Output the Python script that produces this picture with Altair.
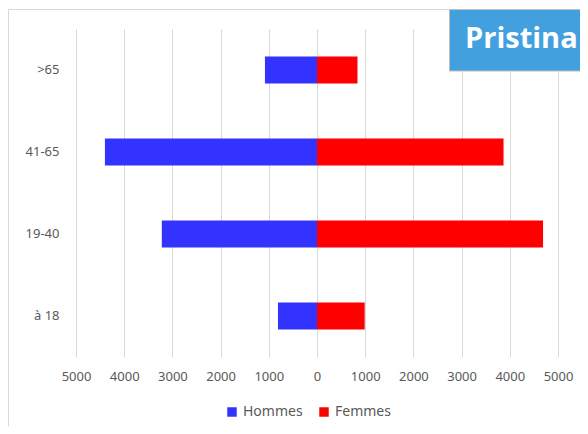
import altair as alt
import pandas as pd

ages = [">65", "41-65", "19-40", "à 18"]
hommes = [1080, 4400, 3220, 810]
femmes = [840, 3870, 4690, 990]
series = ["Hommes", "Femmes"]
colors = ["#3333ff", "#ff0000"]
ticks = [-5000, -4000, -3000, -2000, -1000, 0, 1000, 2000, 3000, 4000, 5000]
title_text = "Pristina"

rows = []
for a, h, f in zip(ages, hommes, femmes):
    rows.append({"age": a, "sexe": "Hommes", "valeur": -h})
    rows.append({"age": a, "sexe": "Femmes", "valeur": f})
df = pd.DataFrame(rows)

bars = alt.Chart(df).mark_bar().encode(
    x=alt.X("valeur:Q", stack=None,
            scale=alt.Scale(domain=[-5000, 5000], nice=False),
            axis=alt.Axis(values=ticks, title=None, labelExpr="format(abs(datum.value), 'd')",
                          grid=True, gridColor="#d9d9d9", gridWidth=1, domain=False, ticks=False,
                          labelPadding=13, labelFontSize=13, labelColor="#595959",
                          labelFont="Noto Sans", labelFlush=False, labelOverlap=False,
                          labelBound=False)),
    y=alt.Y("age:N", sort=ages,
            scale=alt.Scale(paddingInner=0.67, paddingOuter=0.335),
            axis=alt.Axis(title=None, domain=False, ticks=False, grid=False,
                          labelPadding=17, labelFontSize=13, labelColor="#595959",
                          labelFont="Noto Sans")),
    color=alt.Color("sexe:N", scale=alt.Scale(domain=series, range=colors),
                    legend=alt.Legend(title=None, orient="none", legendX=149, legendY=376,
                                      direction="horizontal", symbolType="square",
                                      symbolSize=90, symbolStrokeWidth=0,
                                      labelFontSize=14, labelColor="#595959",
                                      labelFont="Noto Sans", labelOffset=4,
                                      columnPadding=14)),
)

dummy = pd.DataFrame({"a": [0]})
border_v = alt.Chart(dummy).mark_rule(color="#d9d9d9", strokeWidth=1).encode(
    x=alt.value(-67.5), y=alt.value(-20), y2=alt.value(420))
border_h = alt.Chart(dummy).mark_rule(color="#d9d9d9", strokeWidth=1).encode(
    x=alt.value(-68), x2=alt.value(520), y=alt.value(-19.5))
box = alt.Chart(dummy).mark_rect(fill="#41a0dd", stroke="#bfbfbf", strokeWidth=1).encode(
    x=alt.value(373.5), x2=alt.value(530), y=alt.value(-19.5), y2=alt.value(42))
txt = alt.Chart(dummy).mark_text(text=title_text, font="Open Sans", fontWeight="bold",
                                 fontSize=29, color="white", align="left",
                                 baseline="alphabetic").encode(
    x=alt.value(389), y=alt.value(19))

chart = alt.layer(border_v, border_h, bars, box, txt).properties(
    width=482, height=328,
    padding={"left": 68, "top": 21, "right": 22, "bottom": 69},
    autosize=alt.AutoSizeParams(type="none"),
).configure_view(stroke=None)

chart.save("out.html", embed_options={"renderer": "svg", "actions": False})
